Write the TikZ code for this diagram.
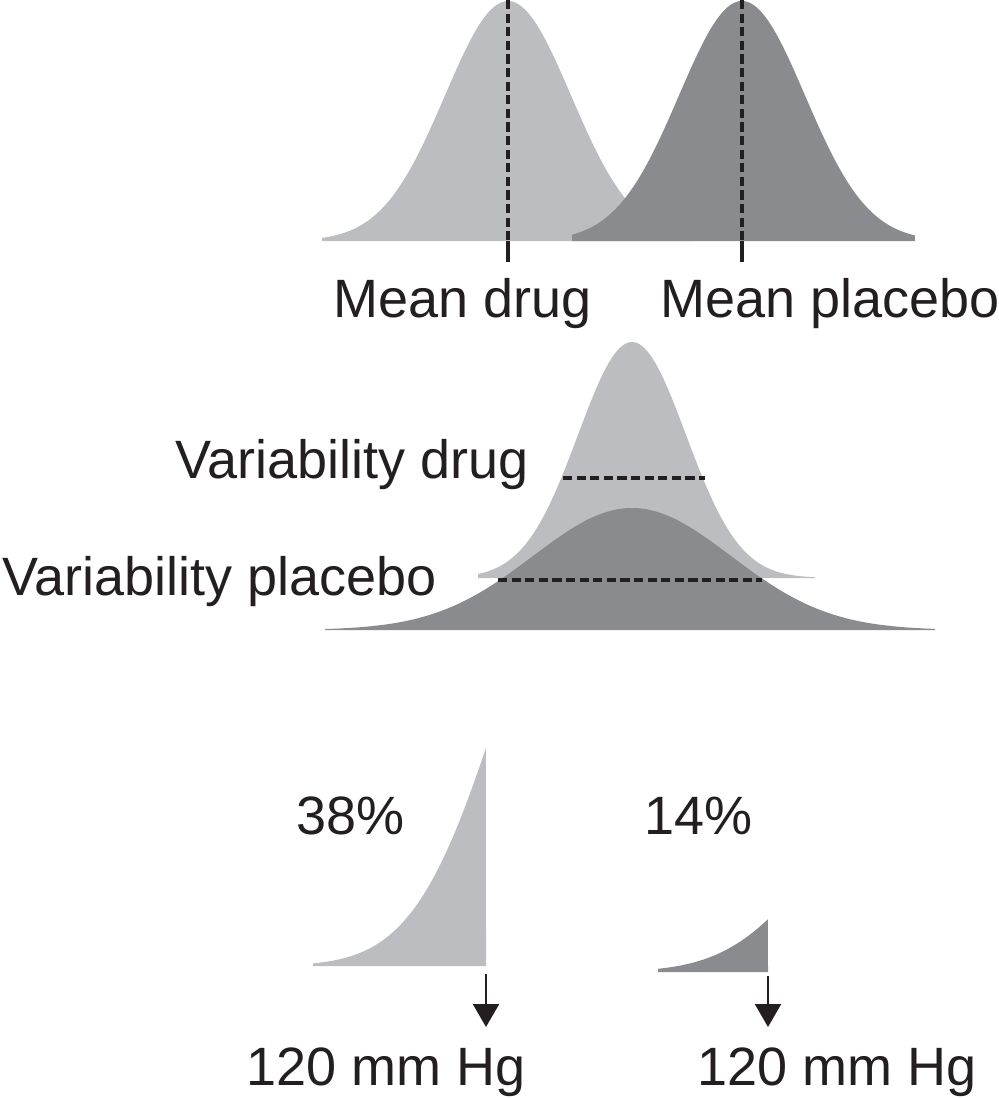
\documentclass[tikz,border=0pt]{standalone}
\usepackage{fontspec}
\setmainfont{Liberation Sans}
\usetikzlibrary{arrows.meta}
\definecolor{lightg}{RGB}{188,189,193}
\definecolor{darkg}{RGB}{138,139,143}
\definecolor{ink}{RGB}{35,31,32}
\begin{document}
\begin{tikzpicture}[x=50pt,y=-50pt,
  lbl/.style={inner sep=0pt, anchor=base west, text=ink, font=\fontsize{27}{32}\selectfont},
  dashline/.style={draw=ink, line width=1.8pt, dash pattern=on 4.6pt off 2.2pt},
  tick/.style={draw=ink, line width=1.6pt},
  downarrow/.style={draw=ink, line width=1.1pt, -{Triangle[length=11.5pt,width=13pt]}}]
\useasboundingbox (0,0) rectangle (9.99,10.98);
% ---- top: means ----
\fill[lightg] plot[domain=3.22:6.94, samples=120, smooth] (\x,{2.41-2.40*exp(-((\x-5.08)^2)/0.794)}) -- (6.94,2.41) -- (3.22,2.41) -- cycle;
\fill[darkg] plot[domain=5.72:9.15, samples=120, smooth] (\x,{2.41-2.40*exp(-((\x-7.42)^2)/0.794)}) -- (9.15,2.41) -- (5.72,2.41) -- cycle;
\coordinate (md0) at (5.08,0);
\coordinate (md1) at (5.08,2.41);
\coordinate (md2) at (5.08,2.62);
\coordinate (mp0) at (7.42,0);
\coordinate (mp1) at (7.42,2.41);
\coordinate (mp2) at (7.42,2.62);
\draw[dashline] (md0) -- (md1);
\draw[tick] (md1) -- (md2);
\draw[dashline] (mp0) -- (mp1);
\draw[tick] (mp1) -- (mp2);
\node[lbl] (meandrug) at (3.33,3.17) {Mean drug};
\node[lbl] (meanplac) at (6.60,3.17) {Mean placebo};
% ---- middle: variability ----
\fill[lightg] plot[domain=4.78:8.15, samples=120, smooth] (\x,{5.78-2.36*exp(-((\x-6.32)^2)/0.583)}) -- (8.15,5.78) -- (4.78,5.78) -- cycle;
\fill[darkg] plot[domain=3.25:9.35, samples=150, smooth] (\x,{6.30-1.22*exp(-((\x-6.32)^2)/1.96)}) -- (9.35,6.30) -- (3.25,6.30) -- cycle;
\coordinate (vd0) at (5.63,4.78);
\coordinate (vd1) at (7.05,4.78);
\coordinate (vp0) at (4.98,5.80);
\coordinate (vp1) at (7.62,5.80);
\draw[dashline] (vd0) -- (vd1);
\draw[dashline] (vp0) -- (vp1);
\node[lbl] (vardrug) at (1.75,4.78) {Variability drug};
\node[lbl] (varplac) at (0.02,5.95) {Variability placebo};
% ---- bottom: tails ----
\fill[lightg] plot[domain=3.13:4.86, samples=100, smooth] (\x,{9.66-4.24*exp(-((\x-5.84)^2)/1.445)}) -- (4.86,9.66) -- (3.13,9.66) -- cycle;
\fill[darkg] plot[domain=6.58:7.68, samples=80, smooth] (\x,{9.72-1.67*exp(-((\x-8.97)^2)/1.445)}) -- (7.68,9.72) -- (6.58,9.72) -- cycle;
\node[lbl] (p38) at (2.96,8.34) {38\%};
\node[lbl] (p14) at (6.44,8.34) {14\%};
\coordinate (a0) at (4.86,9.74);
\coordinate (a1) at (4.86,10.27);
\coordinate (b0) at (7.68,9.76);
\coordinate (b1) at (7.68,10.27);
\draw[downarrow] (a0) -- (a1);
\draw[downarrow] (b0) -- (b1);
\node[lbl] (hg1) at (2.46,10.85) {120 mm Hg};
\node[lbl] (hg2) at (6.97,10.85) {120 mm Hg};
\end{tikzpicture}
\end{document}
